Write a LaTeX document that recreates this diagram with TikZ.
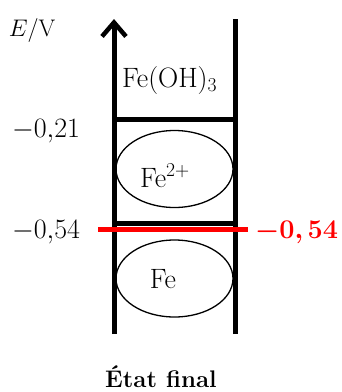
\documentclass[tikz,border=0pt]{standalone}
\usepackage{fix-cm}
\usepackage{bm}
\usepackage{fontspec}
\usetikzlibrary{shapes.geometric,arrows.meta}
\begin{document}
\begin{tikzpicture}[x=1pt,y=-1pt,
  wall/.style={line width=5pt},
  zone/.style={draw,ellipse,line width=1.3pt,minimum width=117pt,minimum height=77pt,inner sep=0pt},
  lbl/.style={inner sep=0pt,anchor=base},
  big/.style={lbl,font=\fontsize{28}{31}\selectfont},
]
\useasboundingbox (0,0) rectangle (342,392);
\coordinate (axb) at (114,334);
\coordinate (axt) at (114,19);
\coordinate (rb) at (235,334);
\coordinate (rt) at (235,19);
\coordinate (l21) at (114,119);
\coordinate (r21) at (235,119);
\coordinate (l54) at (114,223);
\coordinate (r54) at (235,223);
\coordinate (redl) at (98,229);
\coordinate (redr) at (248,229);
\draw[wall,-{Straight Barb[length=14pt,width=24pt,line width=4.5pt]}] (axb) -- (axt);
\draw[wall] (rb) -- (rt);
\draw[wall] (l21) -- (r21);
\draw[wall] (l54) -- (r54);
\node[zone] (fe2) at (174.5,169) {};
\node[zone] (fe) at (174.5,278.5) {};
\draw[red,line width=5pt] (redl) -- (redr);
\node[lbl,font=\fontsize{24}{28}\selectfont] (ev) at (32,36) {$E$/V};
\node[big] (t21) at (46,137) {$-0{,}21$};
\node[big] (t54) at (46,238) {$-0{,}54$};
\node[lbl,font=\fontsize{27}{30}\selectfont,text=red,anchor=base west] (rtxt) at (255,238) {$\bm{-0,54}$};
\node[big,anchor=base west] (foh) at (122,87) {Fe(OH)$_3$};
\node[big] (tfe2) at (165,187) {Fe$^{2+}$};
\node[big] (tfe) at (163,288) {Fe};
\node[lbl,font=\fontsize{24}{28}\selectfont\bfseries] (etat) at (161,387) {État final};
\end{tikzpicture}
\end{document}
